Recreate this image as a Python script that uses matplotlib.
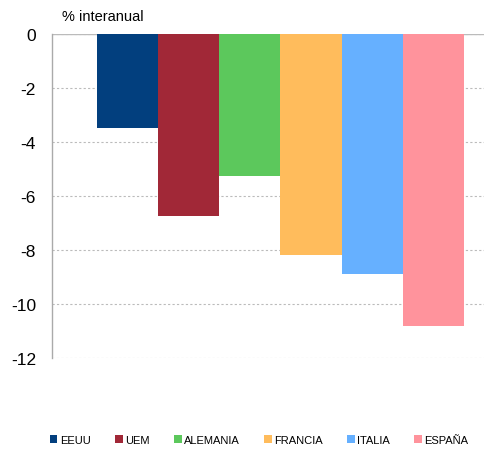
import matplotlib
matplotlib.use("Agg")
import matplotlib.pyplot as plt
from matplotlib.patches import Patch

countries = ["EEUU", "UEM", "ALEMANIA", "FRANCIA", "ITALIA", "ESPAÑA"]
values = [-3.5, -6.75, -5.25, -8.2, -8.9, -10.8]
colors = ["#023F7E", "#A12837", "#5CC85C", "#FFBC5C", "#66B0FF", "#FF939C"]
yticks = [0, -2, -4, -6, -8, -10, -12]

plt.rcParams['font.family'] = ['Liberation Sans', 'DejaVu Sans']

fig = plt.figure(figsize=(4.85, 4.52), dpi=100)
ax = fig.add_axes([0.107, 0.2058, 0.893, 0.7168])

x = list(range(len(countries)))
ax.bar(x, values, width=1.0, color=colors, zorder=3)

ax.set_ylim(-12, 0)
ax.set_xlim(-1.238, 5.844)
ax.set_yticks(yticks)
ax.set_yticklabels([str(t) for t in yticks], fontsize=12.5)
ax.set_xticks([])
ax.tick_params(axis='y', length=0, pad=11.5)
ax.grid(axis='y', linestyle=(0, (2, 2)), color='#bbbbbb', linewidth=0.8, zorder=0)
ax.axhline(0, color='#bbbbbb', linewidth=1.0, zorder=2)

for s in ['top', 'right', 'bottom']:
    ax.spines[s].set_visible(False)
ax.spines['left'].set_color('#aaaaaa')
ax.spines['left'].set_linewidth(1.0)

fig.text(62 / 485, 1 - 17 / 452, "% interanual", fontsize=10.5, va='center', ha='left')

handles = [Patch(facecolor=c, edgecolor='none', label=n) for n, c in zip(countries, colors)]
fig.legend(handles=handles, loc='center', bbox_to_anchor=(0.534, 1 - 441 / 452),
           ncol=6, frameon=False, handlelength=0.7, handleheight=0.7,
           handletextpad=0.2, columnspacing=2.2,
           prop={'size': 8})

fig.savefig("out.png", dpi=100)
